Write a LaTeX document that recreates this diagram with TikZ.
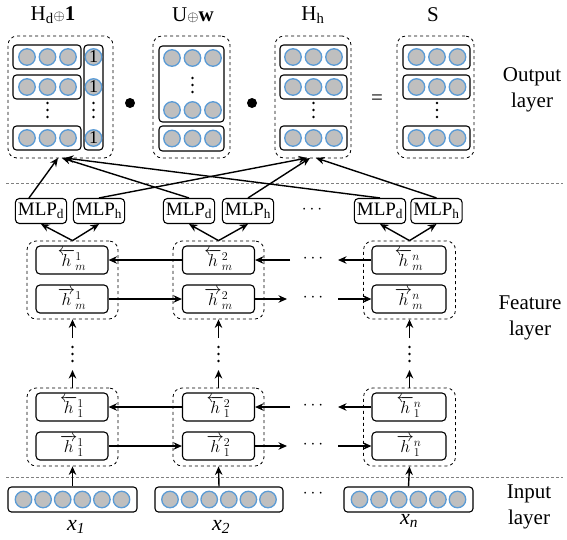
\documentclass[tikz,border=0pt]{standalone}
\usepackage{fontspec}
\setmainfont{Liberation Serif}
\usetikzlibrary{arrows.meta,calc}
\definecolor{cblue}{RGB}{91,155,213}
\definecolor{cgray}{RGB}{191,191,191}
\newcommand\vdts[3]{\node[vd] (#1a) at (#2,#3-7) {}; \node[vd] (#1b) at (#2,#3) {}; \node[vd] (#1c) at (#2,#3+7) {};}
\newcommand\threec[3]{\foreach \k in {0,1,2} {\node[cir] (#1\k) at ({#2+\k*20.5},#3) {};}}
\newcommand\smop{{\fontsize{15}{15}\selectfont$\oplus$}}
\newcommand\hl[2]{$\overleftarrow{h}{}^{#1}_{#2}$}
\newcommand\hr[2]{$\overrightarrow{h}{}^{#1}_{#2}$}
\begin{document}
\begin{tikzpicture}[x=1pt,y=-1pt,
 cir/.style={circle,draw=cblue,fill=cgray,line width=1.3pt,minimum size=16.5pt,inner sep=0pt,font=\fontsize{18}{18}\selectfont},
 rowbox/.style={draw,rounded corners=3.5pt,line width=1.1pt,inner sep=0pt},
 grp/.style={draw,dashed,rounded corners=9pt,line width=0.8pt,inner sep=0pt},
 hbox/.style={draw,rounded corners=4pt,line width=1.1pt,minimum width=72pt,minimum height=28pt,inner sep=0pt,font=\fontsize{18}{18}\selectfont},
 mlp/.style={draw,rounded corners=4pt,line width=1.1pt,minimum height=25pt,inner xsep=2.5pt,inner ysep=0pt,font=\fontsize{19}{19}\selectfont},
 arr/.style={-{Stealth[length=8.5pt,width=7.5pt]},line width=1.4pt},
 sep/.style={gray,densely dashed,line width=0.7pt},
 lbl/.style={font=\fontsize{21}{26}\selectfont,align=center},
 vd/.style={circle,fill,inner sep=0pt,minimum size=2.8pt},
 bul/.style={circle,fill,inner sep=0pt,minimum size=10pt},
 xl/.style={font=\fontsize{22}{22}\selectfont\itshape},
 cd/.style={font=\fontsize{18}{18}\selectfont}
 ]
\useasboundingbox (0,0) rectangle (567,539);

% ---------- output layer ----------
\node[lbl] (tHd) at (53,15) {H\textsubscript{d}\smop\textbf{1}};
\node[lbl] (tU) at (193,15) {U\smop\textbf{w}};
\node[lbl] (tHh) at (313,15) {H\textsubscript{h}};
\node[lbl] (tS) at (433,15) {S};

% box Hd (+) 1
\node[grp,minimum width=105pt,minimum height=122pt] (oHd) at (60.5,97) {};
\node[rowbox,minimum width=68pt,minimum height=24pt] (hd1) at (47,57) {};
\node[rowbox,minimum width=68pt,minimum height=24pt] (hd2) at (47,87) {};
\node[rowbox,minimum width=68pt,minimum height=24pt] (hd3) at (47,138) {};
\threec{hda}{27}{57}
\threec{hdb}{27}{87}
\threec{hdc}{27}{138}
\vdts{hdd}{47.5}{110}
\node[rowbox,minimum width=19pt,minimum height=105pt] (hdcol) at (93.5,97.5) {};
\node[cir] (one1) at (93.5,57) {1};
\node[cir] (one2) at (93.5,87) {1};
\node[cir] (one3) at (93.5,138) {1};
\vdts{hde}{93.5}{110}

\node[bul] (dot1) at (130,103) {};

% box U (+) w
\node[grp,minimum width=77pt,minimum height=122pt] (oU) at (191.5,97) {};
\node[rowbox,minimum width=65pt,minimum height=76pt] (ub1) at (191.5,84) {};
\threec{ua}{172}{58}
\threec{ub}{172}{110}
\vdts{ud}{192.5}{85}
\node[rowbox,minimum width=65pt,minimum height=25pt] (ub2) at (191.5,138.5) {};
\threec{uc}{172}{138.5}

\node[bul] (dot2) at (252,103) {};

% box Hh
\node[grp,minimum width=76pt,minimum height=122pt] (oHh) at (313,97) {};
\node[rowbox,minimum width=67pt,minimum height=24pt] (hh1) at (313.5,57) {};
\node[rowbox,minimum width=67pt,minimum height=24pt] (hh2) at (313.5,87) {};
\node[rowbox,minimum width=67pt,minimum height=24pt] (hh3) at (313.5,138) {};
\threec{hha}{293}{57}
\threec{hhb}{293}{87}
\threec{hhc}{293}{138}
\vdts{hhd}{313.5}{110}

\node[lbl] (eq) at (377,100) {=};

% box S
\node[grp,minimum width=77pt,minimum height=122pt] (oS) at (435.5,97) {};
\node[rowbox,minimum width=67pt,minimum height=24pt] (s1) at (436.5,57) {};
\node[rowbox,minimum width=67pt,minimum height=24pt] (s2) at (436.5,87) {};
\node[rowbox,minimum width=67pt,minimum height=24pt] (s3) at (436.5,138) {};
\threec{sa}{416.5}{57}
\threec{sb}{416.5}{87}
\threec{sc}{416.5}{138}
\vdts{sd}{437}{110}

\node[lbl] (tOut) at (532,90) {Output\\layer};

% separators
\coordinate (s1l) at (6,183); \coordinate (s1r) at (563,183);
\coordinate (s2l) at (6,477); \coordinate (s2r) at (563,477);
\draw[sep] (s1l) -- (s1r);
\draw[sep] (s2l) -- (s2r);

% ---------- MLPs ----------
\node[mlp] (md1) at (41,211) {MLP\textsubscript{d}};
\node[mlp] (mh1) at (99,211) {MLP\textsubscript{h}};
\node[mlp] (md2) at (189,211) {MLP\textsubscript{d}};
\node[mlp] (mh2) at (248,211) {MLP\textsubscript{h}};
\node[cd] (mdots) at (312,210) {$\cdots$};
\node[mlp] (md3) at (380,211) {MLP\textsubscript{d}};
\node[mlp] (mh3) at (436.5,211) {MLP\textsubscript{h}};

\coordinate (td1) at (58,158); \coordinate (td2) at (62,158); \coordinate (td3) at (65,158);
\coordinate (th1) at (307,158); \coordinate (th2) at (310,158); \coordinate (th3) at (316,158);
\draw[arr] ($(md1.north)+(-12,0)$) -- (td1);
\draw[arr] (md2.north) -- (td2);
\draw[arr] (md3.north) -- (td3);
\draw[arr] (mh1.north) -- (th1);
\draw[arr] (mh2.north) -- (th2);
\draw[arr] (mh3.north) -- (th3);

% ---------- feature layer (top, m) ----------
\node[grp,minimum width=91pt,minimum height=78pt] (g1m) at (72.5,280) {};
\node[grp,minimum width=91pt,minimum height=78pt] (g2m) at (218.5,280) {};
\node[grp,minimum width=92pt,minimum height=78pt] (g3m) at (409.5,280) {};
\node[hbox] (b1m) at (72,260) {\hl{1}{m}};
\node[hbox] (f1m) at (72,299) {\hr{1}{m}};
\node[hbox] (b2m) at (218.5,260) {\hl{2}{m}};
\node[hbox] (f2m) at (218.5,299) {\hr{2}{m}};
\node[hbox,minimum width=74pt] (b3m) at (409,260) {\hl{n}{m}};
\node[hbox,minimum width=74pt] (f3m) at (409,299) {\hr{n}{m}};

\draw[arr] (g1m.north) -- (md1.south);
\draw[arr] (g1m.north) -- (mh1.south);
\draw[arr] (g2m.north) -- (md2.south);
\draw[arr] (g2m.north) -- (mh2.south);
\draw[arr] (g3m.north) -- (md3.south);
\draw[arr] (g3m.north) -- (mh3.south);

\coordinate (bmr) at (290,260); \coordinate (bml) at (338,260);
\coordinate (fmr) at (287,299); \coordinate (fml) at (338,299);
\draw[arr] (b2m.west) -- (b1m.east);
\draw[arr] (bmr) -- (b2m.east);
\draw[arr] (b3m.west) -- (bml);
\draw[arr] (f1m.east) -- (f2m.west);
\draw[arr] (f2m.east) -- (fmr);
\draw[arr] (fml) -- (f3m.west);
\node[cd] (dbm) at (313,259) {$\cdots$};
\node[cd] (dfm) at (313,298) {$\cdots$};

% ---------- feature layer (bottom, 1) ----------
\node[grp,minimum width=91pt,minimum height=78pt] (g11) at (72.5,427) {};
\node[grp,minimum width=91pt,minimum height=78pt] (g21) at (218.5,427) {};
\node[grp,minimum width=92pt,minimum height=78pt] (g31) at (409.5,427) {};
\node[hbox] (b11) at (72,407) {\hl{1}{1}};
\node[hbox] (f11) at (72,446) {\hr{1}{1}};
\node[hbox] (b21) at (218.5,407) {\hl{2}{1}};
\node[hbox] (f21) at (218.5,446) {\hr{2}{1}};
\node[hbox,minimum width=74pt] (b31) at (409,407) {\hl{n}{1}};
\node[hbox,minimum width=74pt] (f31) at (409,446) {\hr{n}{1}};

\coordinate (b1r) at (290,407); \coordinate (b1l) at (338,407);
\coordinate (f1r) at (287,446); \coordinate (f1l) at (338,446);
\draw[arr] (b21.west) -- (b11.east);
\draw[arr] (b1r) -- (b21.east);
\draw[arr] (b31.west) -- (b1l);
\draw[arr] (f11.east) -- (f21.west);
\draw[arr] (f21.east) -- (f1r);
\draw[arr] (f1l) -- (f31.west);
\node[cd] (db1) at (313,406) {$\cdots$};
\node[cd] (df1) at (313,445) {$\cdots$};

% vertical connections between layers
\foreach \gx/\nm in {72.5/a,218.5/b,409.5/c} {
  \coordinate (vlo\nm) at (\gx,338);
  \coordinate (vhi\nm) at (\gx,370);
  \vdts{vd\nm}{\gx}{354}
}
\draw[arr] (vloa) -- (g1m.south);
\draw[arr] (vlob) -- (g2m.south);
\draw[arr] (vloc) -- (g3m.south);
\draw[arr] (g11.north) -- (vhia);
\draw[arr] (g21.north) -- (vhib);
\draw[arr] (g31.north) -- (vhic);

\node[lbl] (tFeat) at (530,318) {Feature\\layer};

% ---------- input layer ----------
\node[rowbox,minimum width=129pt,minimum height=25pt] (in1) at (72.5,499.5) {};
\node[rowbox,minimum width=128pt,minimum height=25pt] (in2) at (219,499.5) {};
\node[rowbox,minimum width=129pt,minimum height=25pt] (in3) at (408.5,499.5) {};
\foreach \k in {0,...,5} {
  \node[cir] (ia\k) at ({72.5+(\k-2.5)*19.6},499.5) {};
  \node[cir] (ib\k) at ({219+(\k-2.5)*19.6},499.5) {};
  \node[cir] (ic\k) at ({408.5+(\k-2.5)*19.6},499.5) {};
}
\node[cd] (idots) at (313,494) {$\cdots$};
\draw[arr] (in1.north) -- (g11.south);
\draw[arr] (in2.north) -- (g21.south);
\draw[arr] (in3.north) -- (g31.south);

\node[xl] (x1) at (76,527) {x\textsubscript{\textit{1}}};
\node[xl] (x2) at (221,527) {x\textsubscript{\textit{2}}};
\node[xl] (xn) at (409,521) {x\textsubscript{\textit{n}}};

\node[lbl] (tIn) at (529,507) {Input\\layer};
\end{tikzpicture}
\end{document}
